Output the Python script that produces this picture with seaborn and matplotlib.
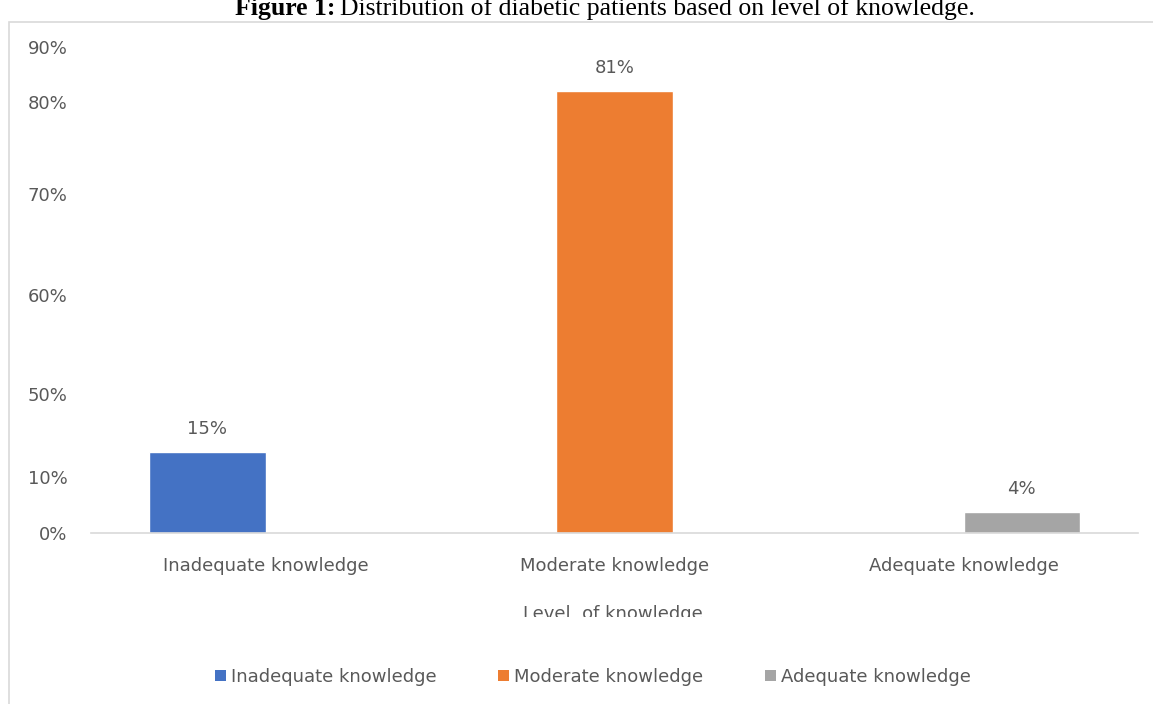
"""Bar chart: distribution of diabetic patients by level of knowledge."""

import matplotlib

matplotlib.use("Agg")
import matplotlib.pyplot as plt
import pandas as pd
import seaborn as sns
from matplotlib.patches import Patch, Rectangle

categories = ["Inadequate knowledge", "Moderate knowledge", "Adequate knowledge"]
percent = [15, 81, 4]
bar_colors = ["#4472C4", "#ED7D31", "#A5A5A5"]

# the source figure labels its y axis unevenly; keep the label placement as drawn
ytick_labels = ["0%", "10%", "50%", "60%", "70%", "80%", "90%"]
ytick_pos = [0, 10.3, 25.5, 43.7, 62.2, 79.0, 89.1]

title_bold = "Figure 1:"
title_rest = "Distribution of diabetic patients based on level of knowledge."
x_title = "Level  of knowledge"

TEXT = "#595959"
LINE = "#D9D9D9"
FS = 13

sns.set_theme(style="white")
plt.rcParams["font.family"] = ["DejaVu Sans"]

df = pd.DataFrame({"level": categories, "percent": percent})

fig = plt.figure(figsize=(11.53, 7.04), dpi=100)
ax = fig.add_axes([0.07893, 0.2422, 0.9081, 0.7067])

sns.barplot(
    data=df, x="level", y="percent", hue="level", order=categories,
    hue_order=categories, palette=bar_colors, dodge=True, width=0.5,
    saturation=1, legend=False, ax=ax,
)

# Excel-style overlapping clusters: bars twice as wide as the dodge step
for p in ax.patches:
    w = p.get_width()
    p.set_x(p.get_x() - w / 2)
    p.set_width(2 * w)

for cont in ax.containers:
    ax.bar_label(cont, fmt="{:.0f}%", padding=10, fontsize=FS, color=TEXT)

ax.set_xlim(-0.5, 2.5)
ax.set_ylim(0, 91.1)
ax.set_yticks(ytick_pos)
ax.set_yticklabels(ytick_labels)
ax.set_xlabel("")
ax.set_ylabel("")

for side in ["top", "right", "left"]:
    ax.spines[side].set_visible(False)
ax.spines["bottom"].set_color(LINE)
ax.spines["bottom"].set_linewidth(1.2)

ax.tick_params(axis="y", length=0, pad=17, labelsize=FS, labelcolor=TEXT)
ax.tick_params(axis="x", which="major", length=0, pad=17, labelsize=FS, labelcolor=TEXT)
ax.set_xticks([-0.5, 0.5, 1.5, 2.5], minor=True)
ax.tick_params(axis="x", which="minor", length=5, color=LINE, width=1.2, direction="out")

# axis title, cut off at the bottom in the source image
fig.text(613 / 1153, 1 - 605 / 704, x_title, ha="center", va="top", fontsize=FS, color=TEXT)
fig.patches.append(Rectangle((430 / 1153, 1 - 640 / 704), 370 / 1153, 23 / 704,
                             transform=fig.transFigure, facecolor="white",
                             edgecolor="none", zorder=10))

handles = [Patch(facecolor=c, edgecolor="none") for c in bar_colors]
fig.legend(handles, categories, loc="center", bbox_to_anchor=(593 / 1153, 1 - 677 / 704),
           ncol=3, frameon=False, fontsize=FS, labelcolor=TEXT,
           handlelength=0.6, handleheight=0.6, handletextpad=0.3, columnspacing=3.4)

# chart frame, running past the right and bottom edge
fig.patches.append(Rectangle((9 / 1153, -0.1), 1.2, 1 - 22 / 704 + 0.1,
                             transform=fig.transFigure, fill=False,
                             edgecolor=LINE, linewidth=1.2))

# figure caption, clipped at the top of the image as in the source
fig.text(335 / 1153, 1 - 15 / 704, title_bold, ha="right", va="baseline",
         fontsize=18.5, fontweight="bold", family=["Liberation Serif"], color="black")
fig.text(340 / 1153, 1 - 15 / 704, title_rest, ha="left", va="baseline",
         fontsize=18.5, family=["Liberation Serif"], color="black")

fig.savefig("out.png", dpi=100)
